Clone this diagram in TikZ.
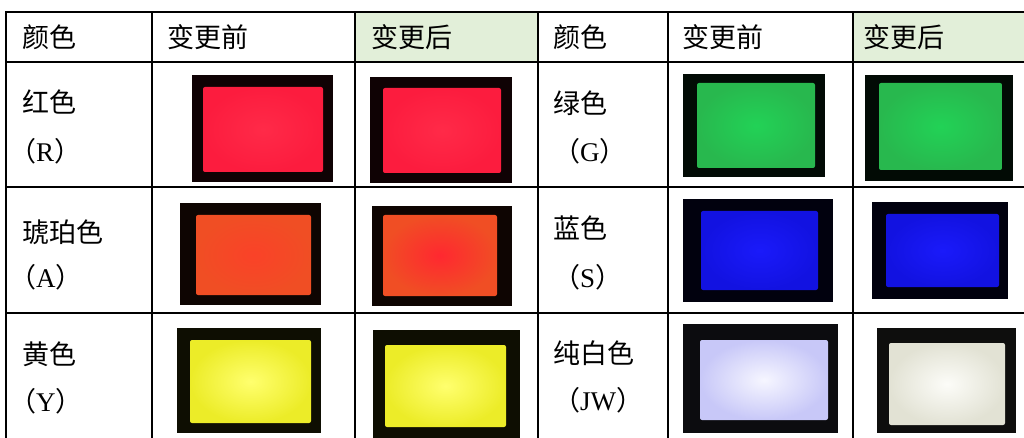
\documentclass[tikz,border=0pt]{standalone}
\usepackage{fontspec}
\setmainfont{Liberation Serif}
\newfontfamily\cjk{Noto Sans CJK SC}
\usepackage{tikz}

\definecolor{hdgreen}{RGB}{226,239,217}
\definecolor{redout}{RGB}{252,28,62}
\definecolor{redin}{RGB}{255,42,72}
\definecolor{ambout}{RGB}{240,78,36}
\definecolor{ambin}{RGB}{250,66,40}
\definecolor{ambin2}{RGB}{255,40,48}
\definecolor{yelout}{RGB}{236,236,40}
\definecolor{yelin}{RGB}{255,255,110}
\definecolor{grnout}{RGB}{40,184,78}
\definecolor{grnin}{RGB}{34,210,86}
\definecolor{bluout}{RGB}{18,18,225}
\definecolor{bluin}{RGB}{26,26,250}
\definecolor{whtout}{RGB}{200,200,248}
\definecolor{whtin}{RGB}{246,246,255}
\definecolor{crmout}{RGB}{226,226,212}
\definecolor{crmin}{RGB}{252,252,248}

\newcommand{\paren}[1]{（{\rmfamily #1}）}
% frame corner, frame corner, screen corner, screen corner, outer, inner
\newcommand{\monitor}[6]{%
  \fill[#5!6!black] #1 rectangle #2;
  \shade[inner color=#6, outer color=#5, rounded corners=2pt] #3 rectangle #4;
}

\tikzset{cell/.style={anchor=west, inner sep=0pt, font=\cjk\fontsize{27}{30}\selectfont},
  grid/.style={line width=2.8pt, line cap=rect}}

\begin{document}
\begin{tikzpicture}[x=1pt,y=-1pt]
\useasboundingbox (0,0) rectangle (1024,438);
\fill[hdgreen] (355,12) rectangle (538,62);
\fill[hdgreen] (853,12) rectangle (1024,62);

\monitor{(192,75)}{(333,182)}{(203,87)}{(323,172)}{redout}{redin}
\monitor{(370,77)}{(512,183)}{(383,88)}{(501,173)}{redout}{redin}
\monitor{(180,203)}{(321,305)}{(196,215)}{(311,295)}{ambout}{ambin}
\monitor{(372,206)}{(512,306)}{(383,215)}{(497,296)}{ambout}{ambin2}
\monitor{(177,328)}{(321,433)}{(190,340)}{(311,423)}{yelout}{yelin}
\monitor{(373,330)}{(520,438)}{(385,345)}{(506,427)}{yelout}{yelin}
\monitor{(683,74)}{(825,177)}{(697,83)}{(815,168)}{grnout}{grnin}
\monitor{(865,75)}{(1013,181)}{(879,83)}{(1002,170)}{grnout}{grnin}
\monitor{(683,199)}{(833,302)}{(701,211)}{(818,290)}{bluout}{bluin}
\monitor{(872,202)}{(1008,299)}{(886,214)}{(999,287)}{bluout}{bluin}
\monitor{(683,324)}{(838,433)}{(700,340)}{(828,420)}{whtout}{whtin}
\monitor{(877,328)}{(1016,433)}{(889,343)}{(1005,425)}{crmout}{crmin}

\foreach \y in {12,62,187,313} \draw[grid] (6,\y) -- (1024,\y);
\foreach \x in {6,152,355,538,668,853} \draw[grid] (\x,12) -- (\x,438);

\node (h1) [cell] at (22,37) {颜色};
\node (h2) [cell] at (167,37) {变更前};
\node (h3) [cell] at (371,37) {变更后};
\node (h4) [cell] at (553,37) {颜色};
\node (h5) [cell] at (682,37) {变更前};
\node (h6) [cell] at (863,37) {变更后};

\node (r) [cell] at (22,102) {红色};
\node (rp) [cell] at (9,151) {\paren{R}};
\node (a) [cell] at (22,232) {琥珀色};
\node (ap) [cell] at (9,277) {\paren{A}};
\node (y) [cell] at (22,354) {黄色};
\node (yp) [cell] at (9,401) {\paren{Y}};
\node (g) [cell] at (553,103) {绿色};
\node (gp) [cell] at (553,151) {\paren{G}};
\node (s) [cell] at (553,228) {蓝色};
\node (sp) [cell] at (553,277) {\paren{S}};
\node (w) [cell] at (553,353) {纯白色};
\node (wp) [cell] at (553,400) {\paren{JW}};
\end{tikzpicture}
\end{document}
